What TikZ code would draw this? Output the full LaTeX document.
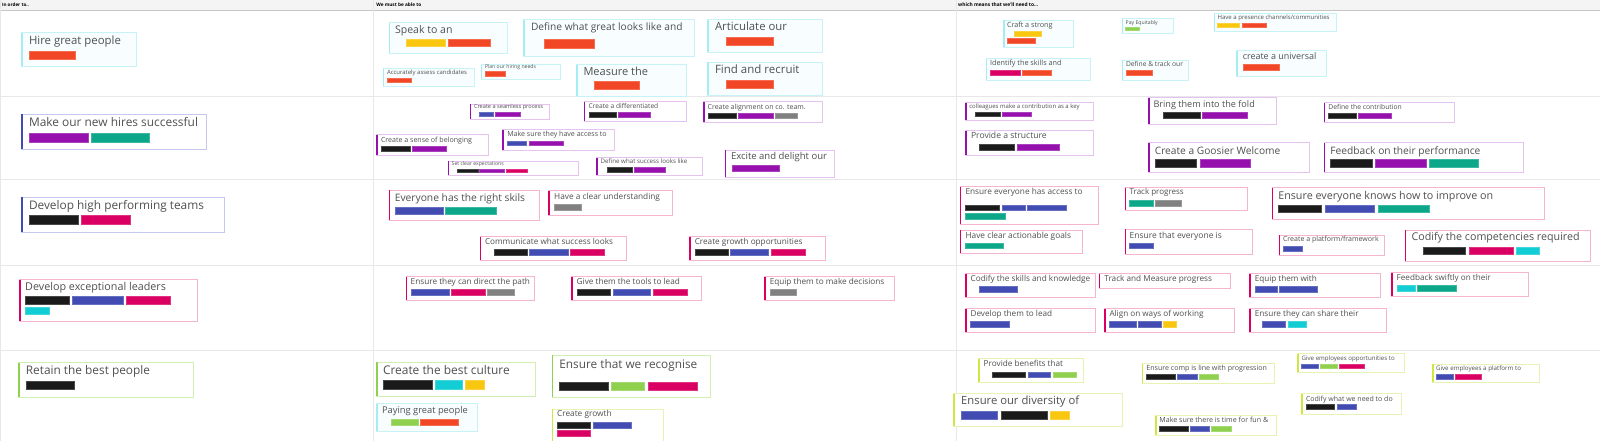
\documentclass[tikz,border=0pt]{standalone}
\usepackage{fontspec}
\setmainfont{Open Sans}
\usepackage{graphicx}
\definecolor{txt}{HTML}{505050}
\definecolor{org}{HTML}{F24726}
\definecolor{yel}{HTML}{FAC710}
\definecolor{pur}{HTML}{9510AC}
\definecolor{tea}{HTML}{0CA789}
\definecolor{blk}{HTML}{1A1A1A}
\definecolor{crm}{HTML}{DA0063}
\definecolor{blu}{HTML}{414BB2}
\definecolor{gry}{HTML}{808080}
\definecolor{cya}{HTML}{12CDD4}
\definecolor{grn}{HTML}{8FD14F}
\definecolor{bdcy}{HTML}{C8F3F6}\definecolor{accy}{HTML}{A5EDF2}\definecolor{flcy}{HTML}{F8FEFF}
\definecolor{bdbl}{HTML}{C5C8EE}\definecolor{acbl}{HTML}{414BB2}\definecolor{flbl}{HTML}{FFFFFF}
\definecolor{bdpu}{HTML}{E6C2EE}\definecolor{acpu}{HTML}{9510AC}\definecolor{flpu}{HTML}{FFFFFF}
\definecolor{bdpk}{HTML}{F7B4CF}\definecolor{acpk}{HTML}{DA0063}\definecolor{flpk}{HTML}{FFFFFF}
\definecolor{bdgr}{HTML}{CFF0B0}\definecolor{acgr}{HTML}{8FD14F}\definecolor{flgr}{HTML}{FFFFFF}
\definecolor{bdly}{HTML}{E6F3B3}\definecolor{acly}{HTML}{CEE741}\definecolor{flly}{HTML}{FFFFFF}
\definecolor{gridc}{HTML}{E8E8E8}
\definecolor{hdrc}{HTML}{F4F4F4}
\newcounter{tgc}
\tikzset{
  cardbox/.style={rectangle,anchor=north west,inner sep=0pt,outer sep=0pt,line width=0.8pt},
  tagbox/.style={rectangle,anchor=north west,inner sep=0pt,outer sep=0pt,line width=0.4pt},
  txtnode/.style={anchor=base west,inner sep=0pt,outer sep=0pt,text=txt,font=\fontsize{10}{12}\selectfont},
  hdrnode/.style={anchor=base west,inner sep=0pt,outer sep=0pt,text=black,font=\bfseries\fontsize{10}{12}\selectfont},
  gridline/.style={draw=gridc,line width=0.8pt}
}
% card: name, x1, y1, x2, y2, kind
\newcommand\crd[6]{\node[cardbox,draw=bd#6,fill=fl#6,minimum width={(#4-#2)*1pt},minimum height={(#5-#3)*1pt}] (#1) at (#2,#3) {};
\draw[line width=1.6pt,draw=ac#6] ([xshift=0.4pt,yshift=-0.3pt]#1.north west) -- ([xshift=0.4pt,yshift=0.3pt]#1.south west);}
% text: name, x1, baseline, x2, text
\newcommand\tx[5]{\pgfmathsetmacro\tw{#4-#2}\node[txtnode] (#1) at (#2,#3) {\resizebox{\tw pt}{!}{#5}};}
% tag: x1, x2, y1, y2, colour
\newcommand\tg[5]{\stepcounter{tgc}\node[tagbox,fill=#5,draw=#5!80!white,minimum width={(#2-#1)*1pt},minimum height={(#4-#3)*1pt}] (tg\arabic{tgc}) at (#1,#3) {};}
\begin{document}
\begin{tikzpicture}[x=1pt,y=-1pt]
\useasboundingbox (0,0) rectangle (1600,441);
\fill[white] (0,0) rectangle (1600,441);
% header band and grid
\fill[hdrc] (0,0) rectangle (1600,10);
\draw[draw=gridc!85!black,line width=0.6pt] (0,10) -- (1600,10);
\draw[gridline] (0,96.5) -- (1600,96.5);
\draw[gridline] (0,179.3) -- (1600,179.3);
\draw[gridline] (0,265) -- (1600,265);
\draw[gridline] (0,350) -- (1600,350);
\draw[gridline] (373,0) -- (373,441);
\draw[gridline] (956.5,0) -- (956.5,441);
\draw[gridline] (0.5,0) -- (0.5,441);
\node[hdrnode] (hd1) at (2,6.8) {\resizebox{27pt}{!}{In order to..}};
\node[hdrnode] (hd2) at (376.3,6.8) {\resizebox{45pt}{!}{We must be able to}};
\node[hdrnode] (hd3) at (958.2,6.8) {\resizebox{80pt}{!}{which means that we'll need to...}};

% ===== Row 1 =====
\crd{a1}{21.7}{32.7}{136}{66.7}{cy}
\tx{a1t}{29}{45}{121}{Hire great people}
\tg{29}{75}{51}{59}{org}

\crd{b1}{389}{22.7}{507}{53.3}{cy}
\tx{b1t}{395}{34}{452.5}{Speak to an}
\tg{406}{445.5}{39.3}{46.7}{yel}\tg{448}{490.6}{39.3}{46.7}{org}
\crd{b2}{523.5}{19.3}{694}{56}{cy}
\tx{b2t}{531}{30.5}{682.6}{Define what great looks like and}
\tg{544}{594}{39.3}{48.7}{org}
\crd{b3}{707.8}{19.3}{822.5}{52.3}{cy}
\tx{b3t}{715}{30.5}{787}{Articulate our}
\tg{726.6}{773}{37}{45}{org}
\crd{b4}{383}{68.7}{474}{86}{cy}
\tx{b4t}{387}{74.7}{467}{Accurately assess candidates}
\tg{387}{411}{78}{82.3}{org}
\crd{b5}{481}{64.3}{560}{79.3}{cy}
\tx{b5t}{485}{68.8}{536}{Plan our hiring needs}
\tg{485}{505}{71.7}{76}{org}
\crd{b6}{576.8}{64.3}{686.7}{96}{cy}
\tx{b6t}{583.5}{76}{648}{Measure the}
\tg{594.5}{639}{81.3}{89.3}{org}
\crd{b7}{707.8}{62}{822.5}{95}{cy}
\tx{b7t}{715}{73.3}{799.5}{Find and recruit}
\tg{726.6}{773}{80}{88}{org}

\crd{c1}{1003.5}{20}{1073}{47.7}{cy}
\tx{c1t}{1007}{27.8}{1052.6}{Craft a strong}
\tg{1014.6}{1041}{31.3}{36}{yel}\tg{1007}{1035.6}{38.7}{43.3}{org}
\crd{c2}{1122}{18.3}{1173.6}{33.7}{cy}
\tx{c2t}{1125.7}{24.5}{1157.8}{Pay Equitably}
\tg{1125}{1139.4}{27}{30.7}{grn}
\crd{c3}{1214}{13.3}{1336}{31.7}{cy}
\tx{c3t}{1217.6}{19.5}{1329.6}{Have a presence channels/communities}
\tg{1217.6}{1239.4}{23.3}{27.7}{yel}\tg{1242}{1266}{23.3}{27.7}{org}
\crd{c4}{986}{58.7}{1090}{80}{cy}
\tx{c4t}{990}{65.7}{1061.6}{Identify the skills and}
\tg{990}{1020.6}{70.3}{75.7}{crm}\tg{1022}{1051.4}{70.3}{75.7}{org}
\crd{c5}{1122}{60}{1188.5}{80}{cy}
\tx{c5t}{1126}{66.3}{1183}{Define \& track our}
\tg{1126}{1152.6}{70.7}{75.3}{org}
\crd{c6}{1236.8}{50.3}{1326.6}{76.3}{cy}
\tx{c6t}{1242.8}{59.3}{1316.3}{create a universal}
\tg{1242.8}{1279}{64}{70.7}{org}

% ===== Row 2 =====
\crd{a2}{21.7}{114}{206}{149}{bl}
\tx{a2t}{29}{127}{198}{Make our new hires successful}
\tg{29}{88}{133}{142}{pur}\tg{91}{149}{133}{142}{tea}

\crd{d1}{470}{104}{549}{119.3}{pu}
\tx{d1t}{474}{108.7}{543}{Create a seamless process}
\tg{479}{493.3}{112.3}{116.3}{blu}\tg{494.7}{520.3}{112.3}{116.3}{pur}
\crd{d2}{584}{101.7}{686.7}{121}{pu}
\tx{d2t}{588.7}{108.7}{658.3}{Create a differentiated}
\tg{588.7}{615.7}{112.3}{117.3}{blk}\tg{617.7}{650.3}{112.3}{117.3}{pur}
\crd{d3}{703.3}{101.7}{822.7}{122.3}{pu}
\tx{d3t}{707.7}{109.3}{805.7}{Create alignment on co. team.}
\tg{707.7}{736}{113.3}{118}{blk}\tg{738.3}{772.7}{113.3}{118}{pur}\tg{775}{797.3}{113.3}{118}{gry}
\crd{d4}{376.7}{134.3}{488}{155.3}{pu}
\tx{d4t}{381}{142.3}{472}{Create a sense of belonging}
\tg{381}{409.7}{146}{150.7}{blk}\tg{412}{446.3}{146}{150.7}{pur}
\crd{d5}{502.7}{129.3}{614.3}{150}{pu}
\tx{d5t}{507.3}{136.5}{606.7}{Make sure they have access to}
\tg{507.3}{526}{140.7}{145.3}{blu}\tg{528.7}{563}{140.7}{145.3}{pur}
\crd{d6}{448}{161}{578.3}{175.7}{pu}
\tx{d6t}{451.7}{165.5}{503.7}{Set clear expectations}
\tg{456.7}{477.7}{168.7}{172.3}{blk}\tg{479.3}{504.3}{168.7}{172.3}{pur}\tg{506}{527.3}{168.7}{172.3}{crm}
\crd{d7}{596.7}{157.7}{702.3}{175.7}{pu}
\tx{d7t}{600.7}{163.5}{687.3}{Define what success looks like}
\tg{606.7}{632.3}{167.3}{172}{blk}\tg{634}{664.7}{167.3}{172}{pur}
\crd{d8}{725}{150}{834}{177.3}{pu}
\tx{d8t}{731}{159.5}{827}{Excite and delight our}
\tg{732}{779}{165}{171.3}{pur}

\crd{e1}{965.5}{102.7}{1093.7}{120}{pu}
\tx{e1t}{969.3}{108.3}{1079.6}{colleagues make a contribution as a key}
\tg{975.3}{999.7}{112}{116}{blk}\tg{1001.8}{1030.9}{112}{116}{pur}
\crd{e2}{1148.4}{97.7}{1276.2}{124.3}{pu}
\tx{e2t}{1153.5}{107.5}{1254.8}{Bring them into the fold}
\tg{1163.3}{1200}{112.7}{118.7}{blk}\tg{1202.6}{1247.5}{112.7}{118.7}{pur}
\crd{e3}{1324}{102.7}{1454.4}{122.3}{pu}
\tx{e3t}{1328.3}{109.3}{1401.8}{Define the contribution}
\tg{1328.3}{1356}{113.7}{118}{blk}\tg{1358.2}{1391}{113.7}{118}{pur}
\crd{e4}{965.5}{130.3}{1093.7}{155.3}{pu}
\tx{e4t}{971}{139}{1046.7}{Provide a structure}
\tg{979.6}{1014.6}{144}{150}{blk}\tg{1017.6}{1059.5}{144}{150}{pur}
\crd{e5}{1148.4}{142.7}{1309.5}{172}{pu}
\tx{e5t}{1154.8}{154}{1280.4}{Create a Goosier Welcome}
\tg{1154.8}{1196.2}{159.3}{166.7}{blk}\tg{1199.7}{1249.7}{159.3}{166.7}{pur}
\crd{e6}{1324}{142.7}{1523}{172.7}{pu}
\tx{e6t}{1330.4}{154}{1480.4}{Feedback on their performance}
\tg{1330.4}{1372.3}{159.3}{166.7}{blk}\tg{1375.3}{1425.7}{159.3}{166.7}{pur}\tg{1429}{1478.3}{159.3}{166.7}{tea}

% ===== Row 3 =====
\crd{a3}{21.7}{197}{224}{232}{bl}
\tx{a3t}{29}{209}{204}{Develop high performing teams}
\tg{29}{78}{215}{224}{blk}\tg{81}{130}{215}{224}{crm}

\crd{f1}{388.9}{190}{539.8}{220.7}{pk}
\tx{f1t}{394.8}{201}{525}{Everyone has the right skils}
\tg{394.8}{442.9}{206.7}{214}{blu}\tg{445.5}{495.8}{206.7}{214}{tea}
\crd{f2}{548.7}{190.7}{672.6}{215.3}{pk}
\tx{f2t}{554.2}{199}{660}{Have a clear understanding}
\tg{554.2}{580.9}{204}{209.7}{gry}
\crd{f3}{480.2}{236.3}{626.4}{260.3}{pk}
\tx{f3t}{485}{244.5}{613}{Communicate what success looks}
\tg{494}{526.9}{249}{255}{blk}\tg{529.4}{568}{249}{255}{blu}\tg{570.5}{604.2}{249}{255}{crm}
\crd{f4}{689.3}{236.3}{825.4}{260.3}{pk}
\tx{f4t}{694.8}{244.5}{802.5}{Create growth opportunities}
\tg{694.8}{728}{249}{255}{blk}\tg{730.3}{768.4}{249}{255}{blu}\tg{771}{804.7}{249}{255}{crm}

\crd{g1}{960}{186.7}{1098.8}{224}{pk}
\tx{g1t}{965.5}{194.5}{1082.6}{Ensure everyone has access to}
\tg{965.5}{999.2}{204.7}{210.3}{blk}\tg{1001.8}{1024.9}{204.7}{210.3}{blu}\tg{1027}{1065.9}{204.7}{210.3}{blu}
\tg{965.5}{1005.6}{212.7}{218.7}{tea}
\crd{g2}{1124.9}{187.3}{1247.5}{210.3}{pk}
\tx{g2t}{1129.6}{194.5}{1183.8}{Track progress}
\tg{1129.6}{1153}{199.7}{205.7}{tea}\tg{1155.2}{1180.9}{199.7}{205.7}{gry}
\crd{g3}{1271.9}{187.3}{1544.5}{219}{pk}
\tx{g3t}{1278.3}{199}{1493.2}{Ensure everyone knows how to improve on}
\tg{1278.3}{1321.5}{205}{212.3}{blk}\tg{1324.9}{1374.4}{205}{212.3}{blu}\tg{1377.9}{1429.1}{205}{212.3}{tea}
\crd{g4}{960}{230}{1082.6}{253.7}{pk}
\tx{g4t}{965.5}{238.3}{1071}{Have clear actionable goals}
\tg{965.5}{1003.5}{242.7}{248.3}{tea}
\crd{g5}{1124.9}{229}{1252.6}{254.3}{pk}
\tx{g5t}{1129.6}{238.3}{1221.9}{Ensure that everyone is}
\tg{1129.6}{1153}{242.7}{248.3}{blu}
\crd{g6}{1279}{235}{1384.3}{255.3}{pk}
\tx{g6t}{1283}{241.7}{1378.7}{Create a platform/framework}
\tg{1283}{1302.6}{246}{251}{blu}
\crd{g7}{1405.2}{230}{1590.3}{261.7}{pk}
\tx{g7t}{1411.6}{240}{1579.6}{Codify the competencies required}
\tg{1422.7}{1465.5}{247}{254.3}{blk}\tg{1469.3}{1513.3}{247}{254.3}{crm}\tg{1516.3}{1539.4}{247}{254.3}{cya}

% ===== Row 4 =====
\crd{a4}{19.8}{279.3}{197.8}{321.3}{pk}
\tx{a4t}{25.2}{290}{166}{Develop exceptional leaders}
\tg{25.2}{69.5}{296}{304}{blk}\tg{72}{123}{296}{304}{blu}\tg{126}{169.7}{296}{304}{crm}
\tg{25.2}{49.2}{306.7}{314.3}{cya}

\crd{h1}{405.9}{276.7}{534.8}{300.7}{pk}
\tx{h1t}{410.7}{284.3}{530}{Ensure they can direct the path}
\tg{410.7}{449}{289.3}{295.3}{blu}\tg{451.4}{485}{289.3}{295.3}{crm}\tg{487.4}{513.8}{289.3}{295.3}{gry}
\crd{h2}{571.3}{276.7}{701.4}{300.7}{pk}
\tx{h2t}{576.7}{284.3}{679.9}{Give them the tools to lead}
\tg{576.7}{610.3}{289.3}{295.3}{blk}\tg{612.7}{650.5}{289.3}{295.3}{blu}\tg{652.9}{687}{289.3}{295.3}{crm}
\crd{h3}{764.4}{276.7}{894.5}{300.7}{pk}
\tx{h3t}{769.8}{284.3}{884.3}{Equip them to make decisions}
\tg{769.8}{796.2}{289.3}{295.3}{gry}

\crd{i1}{965.5}{273.3}{1095.4}{297.3}{pk}
\tx{i1t}{970.6}{281}{1090.3}{Codify the skills and knowledge}
\tg{979.1}{1017.6}{286}{292}{blu}
\crd{i2}{1099.2}{273.3}{1230}{288.7}{pk}
\tx{i2t}{1104.4}{281}{1212}{Track and Measure progress}
\crd{i3}{1249.7}{273.3}{1380}{297.3}{pk}
\tx{i3t}{1254.8}{281}{1316.8}{Equip them with}
\tg{1254.8}{1277}{286}{292}{blu}\tg{1279.6}{1317.6}{286}{292}{blu}
\crd{i4}{1391.5}{272.3}{1528.3}{296.7}{pk}
\tx{i4t}{1396.7}{280.3}{1490.7}{Feedback swiftly on their}
\tg{1396.7}{1415}{285}{291}{cya}\tg{1417.2}{1456}{285}{291}{tea}
\crd{i5}{965.5}{308.3}{1095.4}{332.3}{pk}
\tx{i5t}{970.6}{316}{1052.2}{Develop them to lead}
\tg{970.6}{1009}{320.7}{326.7}{blu}
\crd{i6}{1104.4}{308.3}{1234.3}{332.3}{pk}
\tx{i6t}{1109.5}{316}{1203.5}{Align on ways of working}
\tg{1109.5}{1136}{320.7}{326.7}{blu}\tg{1138}{1160.8}{320.7}{326.7}{blu}\tg{1162.9}{1176.6}{320.7}{326.7}{yel}
\crd{i7}{1249.7}{308.3}{1386.4}{332.3}{pk}
\tx{i7t}{1254.8}{316}{1358.6}{Ensure they can share their}
\tg{1262.5}{1285.6}{320.7}{326.7}{blu}\tg{1288}{1306}{320.7}{326.7}{cya}

% ===== Row 5 =====
\crd{a5}{18.75}{362.7}{192.9}{397}{gr}
\tx{a5t}{25.9}{374.3}{150}{Retain the best people}
\tg{25.9}{74.6}{381}{389.3}{blk}

\crd{j1}{376.3}{362}{535.7}{396.7}{gr}
\tx{j1t}{383}{374.3}{509.8}{Create the best culture}
\tg{383}{432.6}{380.3}{389}{blk}\tg{435.3}{462}{380.3}{389}{cya}\tg{464.7}{484.4}{380.3}{389}{yel}
\crd{j2}{552.2}{355}{710}{397.3}{gr}
\tx{j2t}{559.4}{368.3}{697.3}{Ensure that we recognise}
\tg{559.4}{608.5}{381.7}{390}{blk}\tg{611.2}{644.6}{381.7}{390}{grn}\tg{647.8}{696.9}{381.7}{390}{crm}
\crd{j3}{376.3}{403.3}{477.7}{431}{cy}
\tx{j3t}{382.1}{413.3}{467.9}{Paying great people}
\tg{391.5}{417.9}{419}{425.3}{grn}\tg{420}{458.5}{419}{425.3}{org}
\crd{j4}{552.2}{409}{663.8}{445}{ly}
\tx{j4t}{557.1}{416.7}{611.6}{Create growth}
\tg{557.1}{590.6}{421.7}{428.3}{blk}\tg{592.9}{631.3}{421.7}{428.3}{blu}
\tg{557.1}{590.6}{430.3}{436}{crm}

\crd{k1}{978.5}{358.3}{1083.5}{382.3}{ly}
\tx{k1t}{983.7}{366.7}{1063.1}{Provide benefits that}
\tg{992.4}{1025.4}{371.7}{377}{blk}\tg{1028}{1050.1}{371.7}{377}{blu}\tg{1053.1}{1075.7}{371.7}{377}{grn}
\crd{k2}{1142}{363.3}{1274.3}{383.3}{ly}
\tx{k2t}{1146.4}{370}{1266.9}{Ensure comp is line with progression}
\tg{1146.4}{1175.4}{374.3}{379.3}{blk}\tg{1177.6}{1196.7}{374.3}{379.3}{blu}\tg{1198.8}{1217.9}{374.3}{379.3}{grn}
\crd{k3}{1297.3}{353.3}{1404.4}{372}{ly}
\tx{k3t}{1301.6}{360}{1394.8}{Give employees opportunities to}
\tg{1301.6}{1318.1}{363.7}{367.7}{blu}\tg{1320.3}{1337.2}{363.7}{367.7}{grn}\tg{1339.3}{1364.5}{363.7}{367.7}{crm}
\crd{k4}{1432.6}{364}{1539.3}{382.7}{ly}
\tx{k4t}{1436}{370.7}{1521}{Give employees a platform to}
\tg{1436}{1453.4}{373.7}{378.7}{blu}\tg{1455.6}{1480.7}{373.7}{378.7}{crm}
\crd{k5}{953.8}{393.3}{1122.5}{426.3}{ly}
\tx{k5t}{961.2}{404}{1079.2}{Ensure our diversity of}
\tg{961.2}{997.6}{411.3}{419.3}{blu}\tg{1001.1}{1047}{411.3}{419.3}{blk}\tg{1050.1}{1069.2}{411.3}{419.3}{yel}
\crd{k6}{1301.6}{393.3}{1401.4}{414}{ly}
\tx{k6t}{1306}{401}{1392.7}{Codify what we need to do}
\tg{1306}{1334.6}{404.3}{409.3}{blk}\tg{1336.7}{1355.8}{404.3}{409.3}{blu}
\crd{k7}{1155.5}{415.3}{1276.5}{435.3}{ly}
\tx{k7t}{1159.4}{422.3}{1268.2}{Make sure there is time for fun \&}
\tg{1159.4}{1188}{426.3}{431}{blk}\tg{1190.2}{1209.2}{426.3}{431}{blu}\tg{1211.4}{1231}{426.3}{431}{grn}
\end{tikzpicture}
\end{document}
